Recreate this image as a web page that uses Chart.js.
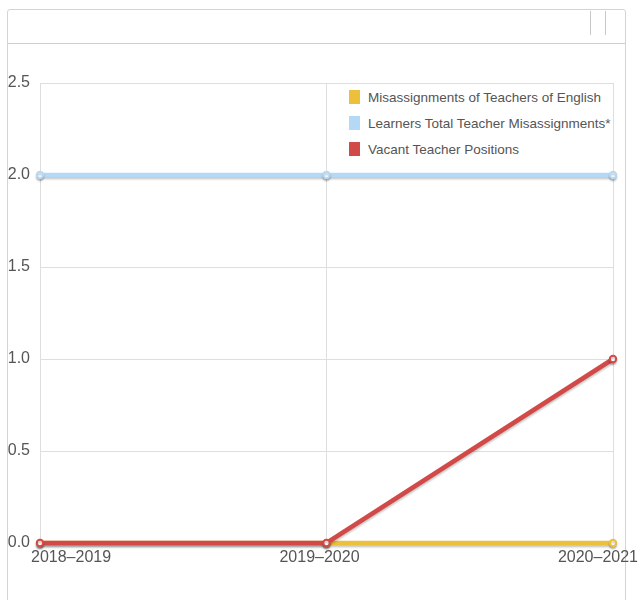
<!DOCTYPE html>
<html>
<head>
<meta charset="utf-8">
<script src="https://cdn.jsdelivr.net/npm/chart.js@4/dist/chart.umd.min.js"></script>
<style>
  body { margin: 0; background: #fff; font-family: "Liberation Sans", Arial, sans-serif; }
  #wrap { position: relative; width: 640px; height: 600px; overflow: hidden; }
  .panel { position: absolute; left: 7px; top: 9px; width: 617px; height: 620px;
           border: 1px solid #d4d4d4; border-radius: 3px; }
  .panel-head { height: 33px; border-bottom: 1px solid #cfcfcf; position: relative; }
  .panel-head span { position: absolute; top: 1px; width: 0; height: 24px; border-left: 1px solid #c8c8c8; }
  canvas { position: absolute; left: 0; top: 0; }
  #legend { position: absolute; left: 345px; top: 84px; width: 267px; background: #fff; }
  #legend div { height: 26px; display: flex; align-items: center; font-size: 13.5px; color: #555; }
  #legend i { display: inline-block; width: 11px; height: 14px; margin: 0 8px 0 4px; }
</style>
</head>
<body>
<div id="wrap">
  <div class="panel"><div class="panel-head"><span style="left:582px"></span><span style="left:597px"></span></div></div>
  <canvas id="lineChart" width="640" height="600"></canvas>
  <div id="legend"></div>
</div>
<script>
// Chart data
const years = ["2018\u20132019", "2019\u20132020", "2020\u20132021"];
const englishMisassignments = [0, 0, 0];
const learnersMisassignments = [2, 2, 2];
const vacantPositions = [0, 0, 1];
const yTicks = [0, 0.5, 1, 1.5, 2, 2.5];

const seriesNames = [
  "Misassignments of Teachers of English",
  "Learners Total Teacher Misassignments*",
  "Vacant Teacher Positions",
];
const seriesColors = ["#ecc03a", "#b3d9f7", "#d24a48"];

// Build the html legend
document.getElementById("legend").innerHTML = seriesNames
  .map((name, i) => `<div><i style="background:${seriesColors[i]}"></i>${name}</div>`)
  .join("");

// Soft shadow under the lines
const shadowPlugin = {
  id: "lineShadow",
  beforeDatasetsDraw(chart) {
    const ctx = chart.ctx;
    ctx.save();
    ctx.shadowColor = "rgba(0,0,0,0.22)";
    ctx.shadowOffsetY = 2;
    ctx.shadowBlur = 2;
  },
  afterDatasetsDraw(chart) {
    chart.ctx.restore();
  },
};

// X labels, kept inside the canvas
const xLabelPlugin = {
  id: "xLabels",
  afterDraw(chart) {
    const ctx = chart.ctx;
    const xScale = chart.scales.x;
    ctx.save();
    ctx.font = "16px 'Liberation Sans', Arial, sans-serif";
    ctx.fillStyle = "#555";
    ctx.textBaseline = "middle";
    years.forEach((label, i) => {
      const w = ctx.measureText(label).width;
      let left = xScale.getPixelForTick(i) - 7 - w / 2;
      left = Math.max(31, Math.min(left, 638 - w));
      ctx.fillText(label, left, chart.chartArea.bottom + 15);
    });
    ctx.restore();
  },
};

function makeSet(label, data, color, order) {
  return {
    label: label,
    data: data,
    borderColor: color,
    backgroundColor: "#fff",
    borderWidth: 4.5,
    pointRadius: 3.2,
    pointBorderWidth: 2,
    pointBorderColor: color,
    pointBackgroundColor: "#fff",
    tension: 0,
    clip: false,
    order: order,
  };
}

const ctx = document.getElementById("lineChart").getContext("2d");
window.lineChart = new Chart(ctx, {
  type: "line",
  data: {
    labels: years,
    datasets: [
      makeSet(seriesNames[0], englishMisassignments, seriesColors[0], 2),
      makeSet(seriesNames[1], learnersMisassignments, seriesColors[1], 1),
      makeSet(seriesNames[2], vacantPositions, seriesColors[2], 0),
    ],
  },
  options: {
    responsive: false,
    animation: false,
    layout: { padding: { top: 83, right: 27, left: 0, bottom: 0 } },
    plugins: { legend: { display: false }, tooltip: { enabled: false } },
    scales: {
      x: {
        grid: { color: "#dedede", drawTicks: false },
        border: { display: false },
        ticks: { display: false },
        afterFit: (scale) => { scale.height = 57; },
      },
      y: {
        min: 0,
        max: 2.5,
        afterBuildTicks: (scale) => { scale.ticks = yTicks.map((v) => ({ value: v })); },
        grid: { color: "#dedede", drawTicks: false },
        border: { display: false },
        ticks: {
          padding: 10,
          color: "#555",
          font: { family: "'Liberation Sans', Arial, sans-serif", size: 16 },
          callback: (v) => Number(v).toFixed(1),
        },
        afterFit: (scale) => { scale.width = 40; },
      },
    },
  },
  plugins: [shadowPlugin, xLabelPlugin],
});
</script>
</body>
</html>
